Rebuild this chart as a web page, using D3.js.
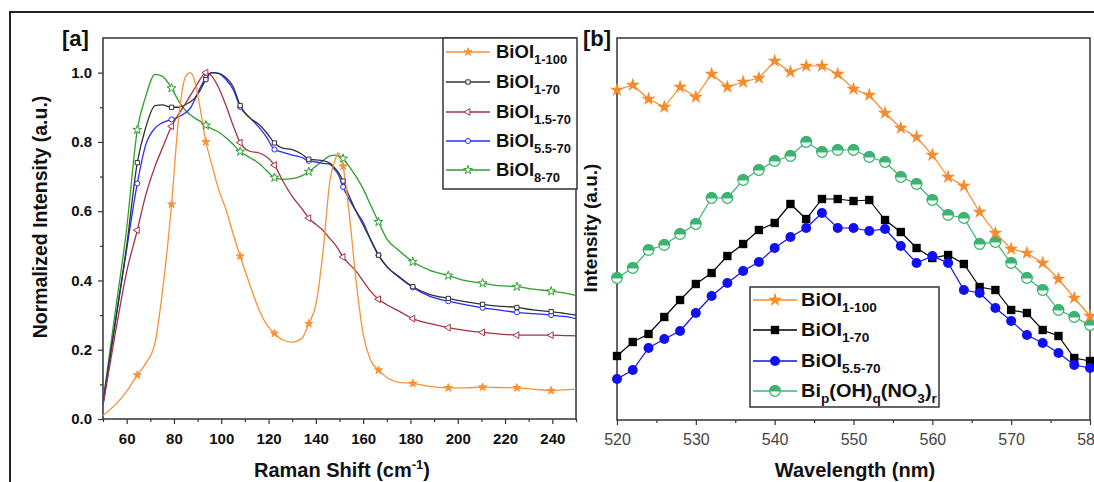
<!DOCTYPE html>
<html><head><meta charset="utf-8">
<script src="https://cdn.jsdelivr.net/npm/d3@7"></script>
<style>
html,body{margin:0;padding:0;background:#fff;}
svg{display:block;font-family:"Liberation Sans",Arial,sans-serif;}
</style></head>
<body>
<svg id="chart" width="1094" height="482"></svg>
<script>
// ---------- Panel [a] data : Raman ----------
const ramanShift = [50,55,60,64.5,68,72,75,79,82,85,87,89,91,93.5,96,99,102,105,108,112,116,119,122.5,126,130,134,137,140,143,146,148,149.5,151.5,154,157,160,163,166.5,170,175,181,188,196,203,210.5,217,225,232,239.5,245,250];
const ramanMarkerShifts = [64.5,79,93.5,108,122.5,137,151.5,166.5,181,196,210.5,225,239.5];
const biOI_1_100 = [0.01,0.04,0.08,0.127,0.16,0.22,0.36,0.62,0.87,0.99,1.0,0.97,0.90,0.80,0.735,0.66,0.605,0.535,0.47,0.39,0.315,0.275,0.247,0.228,0.222,0.232,0.275,0.33,0.48,0.69,0.745,0.768,0.73,0.60,0.40,0.245,0.172,0.141,0.12,0.106,0.103,0.094,0.09,0.09,0.092,0.091,0.09,0.086,0.082,0.084,0.086];
const biOI_1_70 = [0.04,0.27,0.50,0.74,0.84,0.905,0.907,0.90,0.90,0.908,0.916,0.928,0.948,0.98,1.0,0.998,0.985,0.96,0.905,0.87,0.85,0.828,0.797,0.782,0.778,0.765,0.75,0.748,0.746,0.738,0.725,0.712,0.687,0.645,0.60,0.56,0.52,0.473,0.44,0.412,0.382,0.36,0.348,0.339,0.331,0.326,0.322,0.315,0.31,0.305,0.30];
const biOI_1_5_70 = [0.04,0.24,0.425,0.545,0.645,0.73,0.78,0.845,0.88,0.912,0.935,0.957,0.98,1.0,0.99,0.955,0.905,0.848,0.798,0.773,0.768,0.758,0.733,0.688,0.643,0.608,0.58,0.562,0.545,0.52,0.505,0.49,0.468,0.448,0.427,0.398,0.37,0.346,0.33,0.312,0.29,0.276,0.264,0.256,0.25,0.246,0.242,0.242,0.242,0.241,0.24];
const biOI_5_5_70 = [0.05,0.27,0.49,0.68,0.79,0.84,0.855,0.865,0.872,0.885,0.898,0.925,0.955,0.985,1.0,0.997,0.98,0.952,0.901,0.87,0.842,0.815,0.778,0.77,0.762,0.755,0.745,0.742,0.738,0.735,0.72,0.706,0.67,0.635,0.60,0.568,0.52,0.473,0.44,0.41,0.38,0.355,0.34,0.33,0.321,0.315,0.308,0.304,0.30,0.296,0.29];
const biOI_8_70 = [0.05,0.30,0.55,0.835,0.93,0.995,0.99,0.955,0.918,0.89,0.878,0.868,0.86,0.848,0.838,0.828,0.812,0.793,0.772,0.755,0.738,0.718,0.697,0.692,0.694,0.702,0.714,0.73,0.746,0.76,0.762,0.76,0.752,0.73,0.70,0.665,0.62,0.569,0.52,0.487,0.454,0.43,0.414,0.40,0.392,0.385,0.382,0.375,0.369,0.364,0.356];
const ramanXTicks = [60,80,100,120,140,160,180,200,220,240];
const ramanYTicks = [0.0,0.2,0.4,0.6,0.8,1.0];

// ---------- Panel [b] data : PL ----------
const wavelength = [520,522,524,526,528,530,532,534,536,538,540,542,544,546,548,550,552,554,556,558,560,562,564,566,568,570,572,574,576,578,580];
const pl_1_100 = [330,335,321,313,333,323,346,333,338,342,359,348,354,354,346,331,325,307,292,283,265,243,234,208,187,171,167,157,141,122,104];
const pl_1_70 = [64,78,86,103,120,136,147,164,176,190,197,216,201,221,221,219,220,200,188,172,162,165,156,133,130,110,107,90,84,62,59];
const pl_5_5_70 = [41,50,72,81,89,107,124,137,149,158,172,183,192,207,192,192,189,191,174,157,164,157,130,127,112,99,85,77,67,55,52];
const pl_BiOHNO3 = [142,152,170,175,186,196,222,222,240,250,259,264,278,268,270,270,263,258,243,236,220,205,202,176,178,157,142,130,110,103,95];
const plXTicks = [520,530,540,550,560,570,580];

const svg = d3.select("#chart");

// outer frame
svg.append("path").attr("d","M10,482 L10,12 L1094,12").attr("fill","none").attr("stroke","#222").attr("stroke-width",2);

function addAxes(g, x, y, xTicks, xMinor, yTicks, yMinor, bottom, left, bold, labelColor, fs){
  const ax = g.append("g").attr("transform",`translate(0,${bottom})`)
    .call(d3.axisBottom(x).tickValues(xTicks).tickSize(5).tickSizeOuter(0).tickPadding(9).tickFormat(d3.format("d")));
  ax.select(".domain").remove();
  ax.selectAll("text").attr("font-size",fs).attr("font-weight",bold?"bold":"normal").attr("fill",labelColor).attr("font-family","Liberation Sans, Arial, sans-serif");
  ax.selectAll("line").attr("stroke","#333").attr("stroke-width",1.2);
  const mx = g.append("g").attr("transform",`translate(0,${bottom})`)
    .call(d3.axisBottom(x).tickValues(xMinor).tickSize(3).tickSizeOuter(0).tickFormat(""));
  mx.select(".domain").remove();
  mx.selectAll("line").attr("stroke","#333").attr("stroke-width",1.2);
  if (yTicks){
    const ay = g.append("g").attr("transform",`translate(${left},0)`)
      .call(d3.axisLeft(y).tickValues(yTicks).tickSize(5).tickSizeOuter(0).tickPadding(6).tickFormat(d3.format(".1f")));
    ay.select(".domain").remove();
    ay.selectAll("text").attr("font-size",fs).attr("font-weight","bold").attr("fill","#111").attr("font-family","Liberation Sans, Arial, sans-serif");
    ay.selectAll("line").attr("stroke","#333").attr("stroke-width",1.2);
    const my = g.append("g").attr("transform",`translate(${left},0)`)
      .call(d3.axisLeft(y).tickValues(yMinor).tickSize(3).tickSizeOuter(0).tickFormat(""));
    my.select(".domain").remove();
    my.selectAll("line").attr("stroke","#333").attr("stroke-width",1.2);
  }
}

// ================= PANEL A =================
const xA = d3.scaleLinear().domain([50,250]).range([103,576]);
const yA = d3.scaleLinear().domain([0,1.1]).range([419,38]);
const gA = svg.append("g");

addAxes(gA, xA, yA, ramanXTicks, [50,70,90,110,130,150,170,190,210,230,250], ramanYTicks, [0.1,0.3,0.5,0.7,0.9], 419, 103, true, "#111", 15);

gA.append("rect").attr("x",103).attr("y",38).attr("width",473).attr("height",381)
  .attr("fill","none").attr("stroke","#333").attr("stroke-width",1.5);

const seriesA = [
  {name:"1-100", vals:biOI_1_100, color:"#f7923a", sym:d3.symbolStar, size:20, fill:true, rot:0},
  {name:"1-70", vals:biOI_1_70, color:"#333333", sym:d3.symbolSquare, size:18, fill:false, rot:0},
  {name:"1.5-70", vals:biOI_1_5_70, color:"#a13440", sym:d3.symbolTriangle, size:20, fill:false, rot:-90},
  {name:"5.5-70", vals:biOI_5_5_70, color:"#2a2aff", sym:d3.symbolCircle, size:20, fill:false, rot:0},
  {name:"8-70", vals:biOI_8_70, color:"#2ca02c", sym:d3.symbolStar, size:24, fill:false, rot:0}
];

const lineA = d3.line().x((d,i)=>xA(ramanShift[i])).y(d=>yA(d)).curve(d3.curveMonotoneX);
const drawOrderA = [4,3,1,2,0];
drawOrderA.forEach(k=>{
  const s = seriesA[k];
  gA.append("path").datum(s.vals).attr("d",lineA).attr("fill","none").attr("stroke",s.color).attr("stroke-width",1.3);
});
drawOrderA.forEach(k=>{
  const s = seriesA[k];
  const pts = ramanShift.map((x,i)=>({x:x,y:s.vals[i]})).filter(p=>ramanMarkerShifts.includes(p.x));
  gA.selectAll(null).data(pts).enter().append("path")
    .attr("d", d3.symbol().type(s.sym).size(s.size))
    .attr("transform", p=>`translate(${xA(p.x)},${yA(p.y)}) rotate(${s.rot})`)
    .attr("fill", s.fill?s.color:"#fff").attr("stroke", s.color).attr("stroke-width",1);
});

// legend A
const legA = gA.append("g");
legA.append("rect").attr("x",443).attr("y",38).attr("width",134).attr("height",151)
  .attr("fill","#fff").attr("stroke","#333").attr("stroke-width",1.5);
const legARows = [52,82,112,141,170];
seriesA.forEach((s,i)=>{
  const yy = legARows[i];
  legA.append("line").attr("x1",446).attr("x2",490).attr("y1",yy).attr("y2",yy).attr("stroke",s.color).attr("stroke-width",1.3);
  legA.append("path").attr("d",d3.symbol().type(s.sym).size(s.size)).attr("transform",`translate(468,${yy}) rotate(${s.rot})`)
    .attr("fill", s.fill?s.color:"#fff").attr("stroke",s.color).attr("stroke-width",1);
  const t = legA.append("text").attr("x",496).attr("y",yy+6).attr("font-size",18.5).attr("font-weight","bold").attr("fill","#111");
  t.append("tspan").text("BiOI");
  t.append("tspan").attr("font-size",13).attr("dy",6).text(s.name);
});

// labels A
svg.append("text").attr("x",62).attr("y",46).attr("font-size",22).attr("font-weight","bold").attr("fill","#111").text("[a]");
svg.append("text").attr("transform","translate(47,217) rotate(-90)").attr("text-anchor","middle")
  .attr("font-size",19.5).attr("font-weight","bold").attr("fill","#111").text("Normalized Intensity (a.u.)");
const xtA = svg.append("text").attr("x",342).attr("y",477).attr("text-anchor","middle").attr("font-size",20).attr("font-weight","bold").attr("fill","#111");
xtA.append("tspan").text("Raman Shift (cm");
xtA.append("tspan").attr("font-size",13).attr("dy",-8).text("-1");
xtA.append("tspan").attr("dy",8).text(")");

// ================= PANEL B =================
const xB = d3.scaleLinear().domain([520,580]).range([617,1090]);
const yB = d3.scaleLinear().domain([0,382]).range([420,38]);
const gB = svg.append("g");
addAxes(gB, xB, yB, plXTicks, [525,535,545,555,565,575], null, null, 420, 617, false, "#444", 16);
gB.append("rect").attr("x",617).attr("y",38).attr("width",473).attr("height",382)
  .attr("fill","none").attr("stroke","#333").attr("stroke-width",1.5);

const seriesB = [
  {vals:pl_1_100, color:"#f68b2c", type:"star"},
  {vals:pl_1_70, color:"#000000", type:"square"},
  {vals:pl_5_5_70, color:"#1010f0", type:"circle"},
  {vals:pl_BiOHNO3, color:"#3cb371", type:"half"}
];
function drawMarker(g, type, color, x, y){
  if (type==="star"){
    g.append("path").attr("d",d3.symbol().type(d3.symbolStar).size(62)).attr("transform",`translate(${x},${y})`).attr("fill",color);
  } else if (type==="square"){
    g.append("path").attr("d",d3.symbol().type(d3.symbolSquare).size(70)).attr("transform",`translate(${x},${y})`).attr("fill",color);
  } else if (type==="circle"){
    g.append("circle").attr("cx",x).attr("cy",y).attr("r",5).attr("fill",color);
  } else {
    const r = 5.3;
    g.append("circle").attr("cx",x).attr("cy",y).attr("r",r).attr("fill","#fff").attr("stroke",color).attr("stroke-width",1.2);
    g.append("path").attr("d",`M${x-r},${y} A${r},${r} 0 0 1 ${x+r},${y} Z`).attr("fill",color).attr("stroke",color).attr("stroke-width",1.2);
  }
}
const lineB = d3.line().x((d,i)=>xB(wavelength[i])).y(d=>yB(d));
[3,0,1,2].forEach(k=>{
  const s = seriesB[k];
  gB.append("path").datum(s.vals).attr("d",lineB).attr("fill","none").attr("stroke",s.color).attr("stroke-width",1.2);
  s.vals.forEach((v,i)=>drawMarker(gB, s.type, s.color, xB(wavelength[i]), yB(v)));
});

// legend B
const legB = gB.append("g");
legB.append("rect").attr("x",750).attr("y",287).attr("width",189).attr("height",120)
  .attr("fill","#fff").attr("stroke","#333").attr("stroke-width",1.5);
const legBRows = [300,330,361,391];
const legBSubs = ["1-100","1-70","5.5-70"];
seriesB.forEach((s,i)=>{
  const yy = legBRows[i];
  legB.append("line").attr("x1",753).attr("x2",797).attr("y1",yy).attr("y2",yy).attr("stroke",s.color).attr("stroke-width",1.3);
  drawMarker(legB, s.type, s.color, 775, yy);
  const t = legB.append("text").attr("transform",`translate(801,${yy+6}) scale(1.05,1)`).attr("font-size",19).attr("font-weight","bold").attr("fill","#111");
  if (i<3){
    t.append("tspan").text("BiOI");
    t.append("tspan").attr("font-size",13).attr("dy",6).text(legBSubs[i]);
  } else {
    t.append("tspan").text("Bi");
    t.append("tspan").attr("font-size",13).attr("dy",6).text("p");
    t.append("tspan").attr("dy",-6).text("(OH)");
    t.append("tspan").attr("font-size",13).attr("dy",6).text("q");
    t.append("tspan").attr("dy",-6).text("(NO");
    t.append("tspan").attr("font-size",13).attr("dy",6).text("3");
    t.append("tspan").attr("dy",-6).text(")");
    t.append("tspan").attr("font-size",13).attr("dy",6).text("r");
  }
});

svg.append("text").attr("x",583).attr("y",46).attr("font-size",22).attr("font-weight","bold").attr("fill","#111").text("[b]");
svg.append("text").attr("transform","translate(597,228) rotate(-90)").attr("text-anchor","middle")
  .attr("font-size",19).attr("font-weight","bold").attr("fill","#111").text("Intensity (a.u.)");
svg.append("text").attr("x",855).attr("y",477).attr("text-anchor","middle").attr("font-size",20).attr("font-weight","bold").attr("fill","#111").text("Wavelength (nm)");
</script>
</body></html>
